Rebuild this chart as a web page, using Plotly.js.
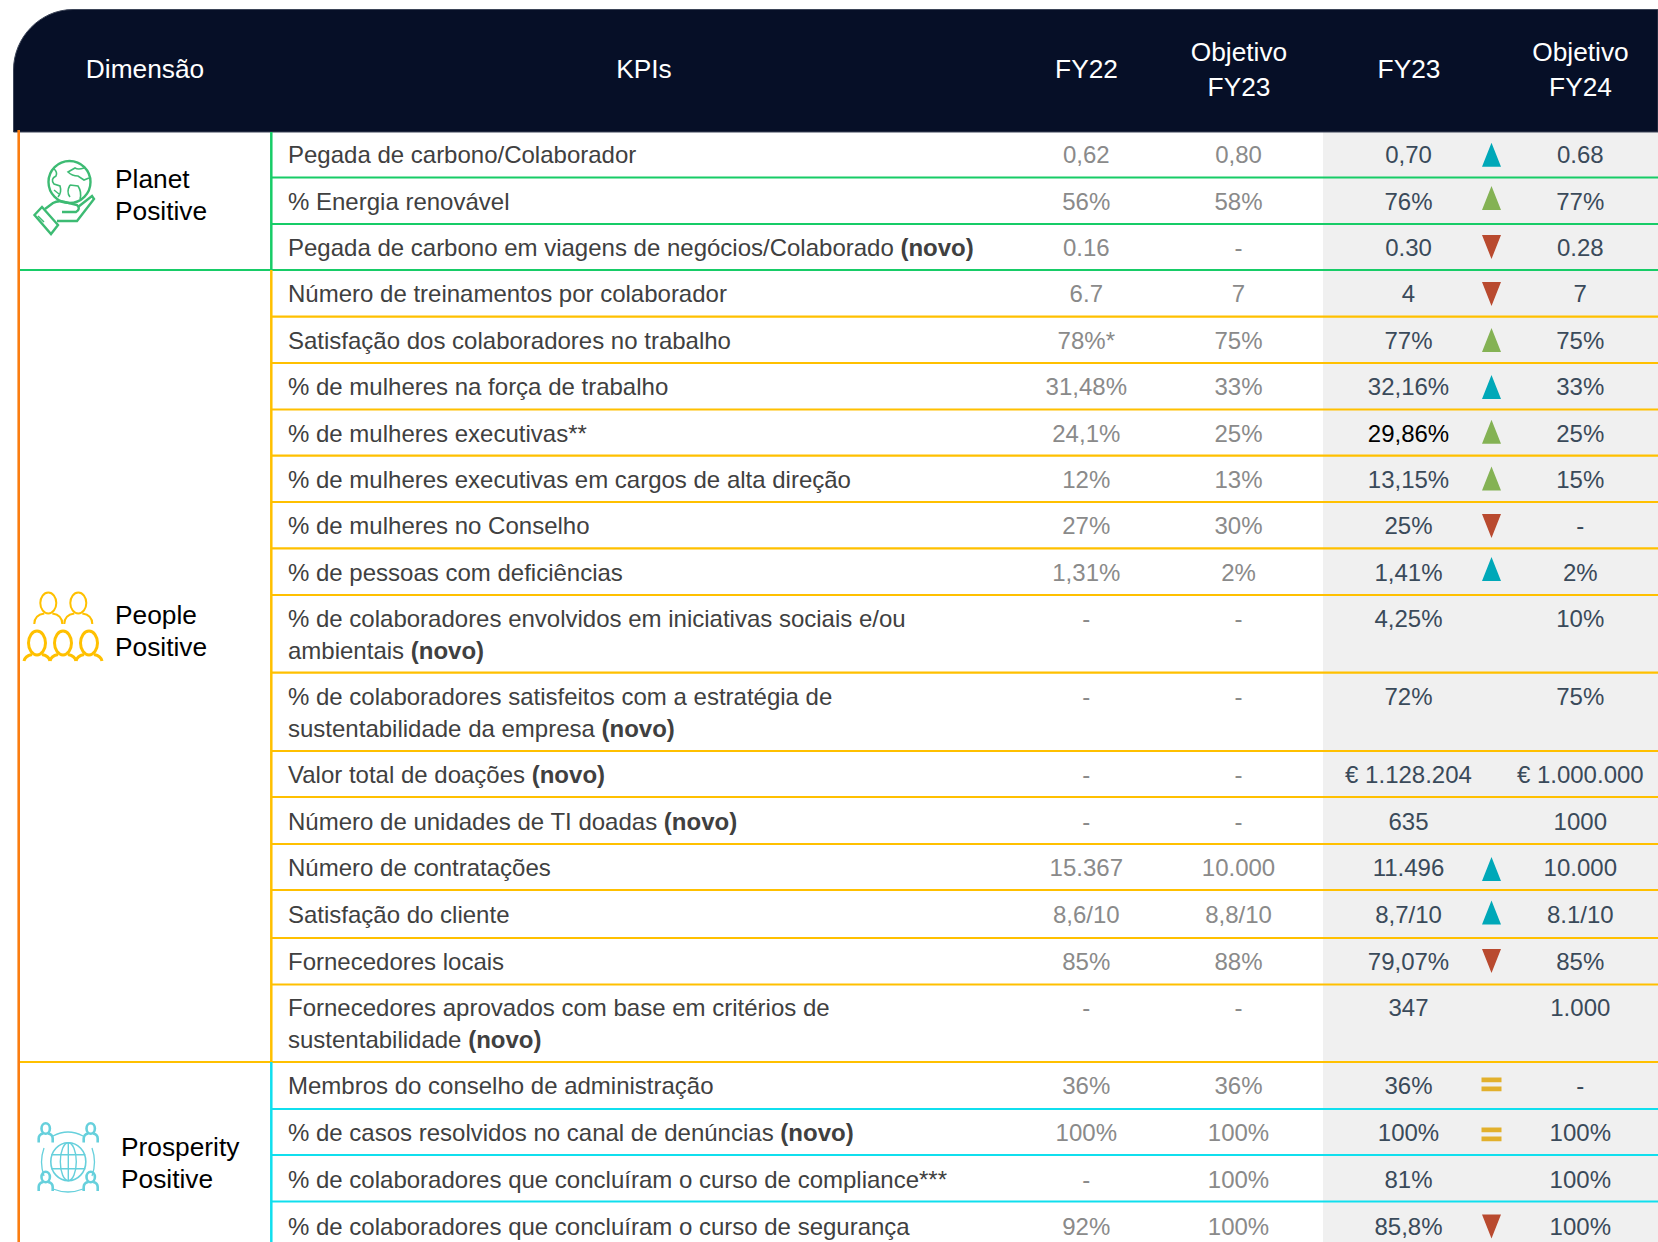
<!DOCTYPE html>
<html><head><meta charset="utf-8">
<script src="https://cdn.plot.ly/plotly-3.0.1.min.js"></script>
<style>html,body{margin:0;padding:0;background:#fff}#c{width:1658px;height:1242px}</style>
</head><body><div id="c"></div>
<script>
const kpi = ["Pegada de carbono/Colaborador","% Energia renovável","Pegada de carbono em viagens de negócios/Colaborado <b>(novo)</b>",
"Número de treinamentos por colaborador","Satisfação dos colaboradores no trabalho","% de mulheres na força de trabalho","% de mulheres executivas**",
"% de mulheres executivas em cargos de alta direção","% de mulheres no Conselho","% de pessoas com deficiências",
"% de colaboradores envolvidos em iniciativas sociais e/ou<br>ambientais <b>(novo)</b>","% de colaboradores satisfeitos com a estratégia de<br>sustentabilidade da empresa <b>(novo)</b>",
"Valor total de doações <b>(novo)</b>","Número de unidades de TI doadas <b>(novo)</b>","Número de contratações","Satisfação do cliente","Fornecedores locais",
"Fornecedores aprovados com base em critérios de<br>sustentabilidade <b>(novo)</b>","Membros do conselho de administração","% de casos resolvidos no canal de denúncias <b>(novo)</b>",
"% de colaboradores que concluíram o curso de compliance***","% de colaboradores que concluíram o curso de segurança"];
const fy22 = ["0,62","56%","0.16","6.7","78%*","31,48%","24,1%","12%","27%","1,31%","-","-","-","-","15.367","8,6/10","85%","-","36%","100%","-","92%"];
const obj23 = ["0,80","58%","-","7","75%","33%","25%","13%","30%","2%","-","-","-","-","10.000","8,8/10","88%","-","36%","100%","100%","100%"];
const fy23 = ["0,70","76%","0.30","4","77%","32,16%","29,86%","13,15%","25%","1,41%","4,25%","72%","€ 1.128.204","635","11.496","8,7/10","79,07%","347","36%","100%","81%","85,8%"];
const trend = ["teal","green","down","down","green","teal","green","green","down","teal","","","","","teal","teal","down","","equal","equal","","down"];
const obj24 = ["0.68","77%","0.28","7","75%","33%","25%","15%","-","2%","10%","75%","€ 1.000.000","1000","10.000","8.1/10","85%","1.000","-","100%","100%","100%"];
const headers = ["Dimensão","KPIs","FY22","Objetivo<br>FY23","FY23","Objetivo<br>FY24"];
const dimensions = ["Planet<br>Positive","People<br>Positive","Prosperity<br>Positive"];

// layout (page pixels)
const W=1658,H=1242,TOP=132,DY=2;
const rowBottom=[177.5,224,270,316.7,363,409.5,455.7,502,548.3,595,672.7,751,797,844,890,938,984.5,1062,1109,1155,1201.5];
const firstY=[154.5,202,247.5,294,340.5,387,433.5,479.5,526,572.6,618.6,697,775,821.6,868,915,962,1008,1086,1132.5,1180,1226.5];
const trendY=[154.7,198,247,294,340,387,431.7,478.5,526,569,0,0,0,0,869,912.5,961,0,1085,1135,0,1226.5];
const X={dim:145,kpi:288,fy22:1086.3,o23:1238.5,fy23:1408.5,mark:1491.5,o24:1580.3};
const GREEN='#17cc67',YELLOW='#ffc000',CYAN='#10dfee',ORANGE='#fb7d10',NAVY='#060f27';
const FONT='"Liberation Sans", Arial, sans-serif';
const GREY='#8a8a8a',SLATE='#3a4a5a',INK='#404040';

const textTrace=(x,y,text,color,size,pos)=>({type:'scatter',mode:'text',x,y:y.map(v=>v+DY),text,textposition:pos||'middle center',
  textfont:{family:FONT,size:size||24,color},hoverinfo:'skip',showlegend:false,cliponaxis:false});
// one point per written line, so the line pitch matches the reference
function lines(xs,ys,strs,pitch,anchorFirst){
  const x=[],y=[],t=[];
  strs.forEach((s,i)=>{ const p=s.split('<br>');
    const y0=anchorFirst?ys[i]:ys[i]-(p.length-1)*pitch/2;
    p.forEach((l,k)=>{x.push(xs[i]);y.push(y0+k*pitch);t.push(l);}); });
  return {x,y,t};
}
const same=v=>kpi.map(()=>v);
const hd=lines([145,644,1086.5,1239,1409,1580.5],[69,69,69,70,69,70],headers,35);
const kp=lines(same(X.kpi),firstY,kpi,32,true);
const dm=lines([115,115,121],[195.6,631.5,1163],dimensions,32);

const traces=[
 textTrace(hd.x,hd.y,hd.t,'#ffffff',26.3),
 textTrace(kp.x,kp.y,kp.t,INK,24,'middle right'),
 textTrace(same(X.fy22),firstY,fy22,GREY),
 textTrace(same(X.o23),firstY,obj23,GREY),
 textTrace(same(X.fy23),firstY,fy23,fy23.map(v=>v==='29,86%'?'#000000':SLATE)),
 textTrace(same(X.o24),firstY,obj24,SLATE),
 textTrace(dm.x,dm.y,dm.t,'#000000',26.3,'middle right')
];
const tw=9.5,th=12;
function glyph(kind,color){
  const xs=[],ys=[];
  trend.forEach((t,i)=>{ if(t!==kind) return; const y=trendY[i],x=X.mark;
    if(kind==='equal'){
      xs.push(x-10,x+10,x+10,x-10,x-10,null,x-10,x+10,x+10,x-10,x-10,null);
      ys.push(y-7.5,y-7.5,y-2.8,y-2.8,y-7.5,null,y+1.5,y+1.5,y+6.3,y+6.3,y+1.5,null);
    } else if(kind==='down'){
      xs.push(x-tw,x+tw,x,x-tw,null); ys.push(y-th,y-th,y+th,y-th,null);
    } else {
      xs.push(x-tw,x+tw,x,x-tw,null); ys.push(y+th,y+th,y-th,y+th,null);
    }
  });
  return {type:'scatter',mode:'lines',x:xs,y:ys,fill:'toself',fillcolor:color,line:{color:color,width:0},hoverinfo:'skip',showlegend:false};
}
traces.push(glyph('teal','#00a8b8'),glyph('green','#84b254'),glyph('down','#b94a2f'),glyph('equal','#e2b02c'));

const line=(x0,y0,x1,y1,color,width)=>({type:'line',xref:'x',yref:'y',x0,y0,x1,y1,line:{color,width:width||2.2},layer:'below'});
const path=(d,color,width)=>({type:'path',xref:'x',yref:'y',path:d,line:{color,width:width||2},layer:'below'});
const oval=(cx,cy,rx,ry,color,width)=>({type:'circle',xref:'x',yref:'y',x0:cx-rx,x1:cx+rx,y0:cy-ry,y1:cy+ry,line:{color,width:width||2},layer:'below'});

const shapes=[
 {type:'rect',xref:'x',yref:'y',x0:1323,x1:W,y0:TOP,y1:H,fillcolor:'#f0f0f0',line:{width:0},layer:'below'},
 {type:'path',xref:'x',yref:'y',path:`M13.5,132 V70 C13.5,37 40.5,9.5 73,9.5 H${W} V132 Z`,fillcolor:NAVY,line:{color:'#3d4558',width:1},layer:'below'}
];
rowBottom.forEach((y,i)=>{
  const c=i<3?GREEN:i<18?YELLOW:CYAN;
  const wide=(i===2||i===17);
  shapes.push(line(wide?18:271,y,W,y,c));
});
shapes.push(line(271.3,TOP,271.3,270,GREEN,2.5),line(271.3,270,271.3,1062,YELLOW,2.5),line(271.3,1062,271.3,H,CYAN,2.5),line(18.7,130,18.7,H,ORANGE,2.6));

// Planet icon
const G='#3dbb73';
shapes.push(oval(69.5,182,21,21,G,2.4),
 path('M42,207 L58,225 L51,234 L34.5,215 Z',G,2.4),
 path('M38,216 L44,222',G,1.5),
 path('M45,209 L53,203 Q58,200 65,202 L77,205 Q81,209 76,212 L62,212',G,2.4),
 path('M78,207 L92,196 L94,199 L77,221 L57,221',G,2.4),
 path('M53,168 Q58,172 56,176 Q50,179 54,184 L60,186 Q62,192 58,197',G,1.6),
 path('M84,168 Q78,170 75,168 L68,172 Q72,176 78,176 L84,180 L89,178',G,1.6),
 path('M70,185 Q66,192 70,197 M70,185 L78,186 Q82,192 80,199',G,1.6),
 path('M54,190 L59,194',G,1.4));
// People icon
const Y='#ffc000';
[[48.3,603],[78.3,603]].forEach(([x,y])=>shapes.push(oval(x,y,8,10.5,Y,2),path(`M${x-14},624 Q${x-14},615 ${x-4},613.5 M${x+4},613.5 Q${x+14},615 ${x+14},624`,Y,2)));
[[37,643],[63,643],[89,643]].forEach(([x,y])=>shapes.push(oval(x,y,8.5,12,Y,3),path(`M${x-13},661 Q${x-12},656 ${x-5},654.5 M${x+5},654.5 Q${x+12},656 ${x+13},661`,Y,3)));
// Prosperity icon
const C='#66d0dc';
const cx=68.3,cy=1161.7;
shapes.push(oval(cx,cy,17.5,19,C,1.6),oval(cx,cy,8,19,C,1.4),
 path(`M${cx},${cy-19} V${cy+19} M${cx-17},${cy-7} H${cx+17} M${cx-17},${cy+7} H${cx+17}`,C,1.4),
 path(`M53,1136 Q68,1128 83,1136 M53,1189 Q68,1195 83,1189 M44,1148 Q39,1162 44,1176 M92,1148 Q97,1162 92,1176`,C,1.3));
[[45.7,1131.5],[90.7,1131.5],[45.7,1180],[90.7,1180]].forEach(([x,y])=>shapes.push(oval(x,y-3,4.2,5.2,C,2.6),
 path(`M${x-7},${y+11} V${y+7} Q${x-7},${y+3} ${x-2.5},${y+2} M${x+7},${y+11} V${y+7} Q${x+7},${y+3} ${x+2.5},${y+2}`,C,2.6)));

const axis=r=>({range:r,visible:false,fixedrange:true,showgrid:false,zeroline:false});
Plotly.newPlot('c',traces,{width:W,height:H,margin:{l:0,r:0,t:0,b:0,pad:0},paper_bgcolor:'#ffffff',plot_bgcolor:'#ffffff',
 xaxis:axis([0,W]),yaxis:axis([H,0]),shapes,showlegend:false,hovermode:false},{displayModeBar:false,staticPlot:true});
</script></body></html>
